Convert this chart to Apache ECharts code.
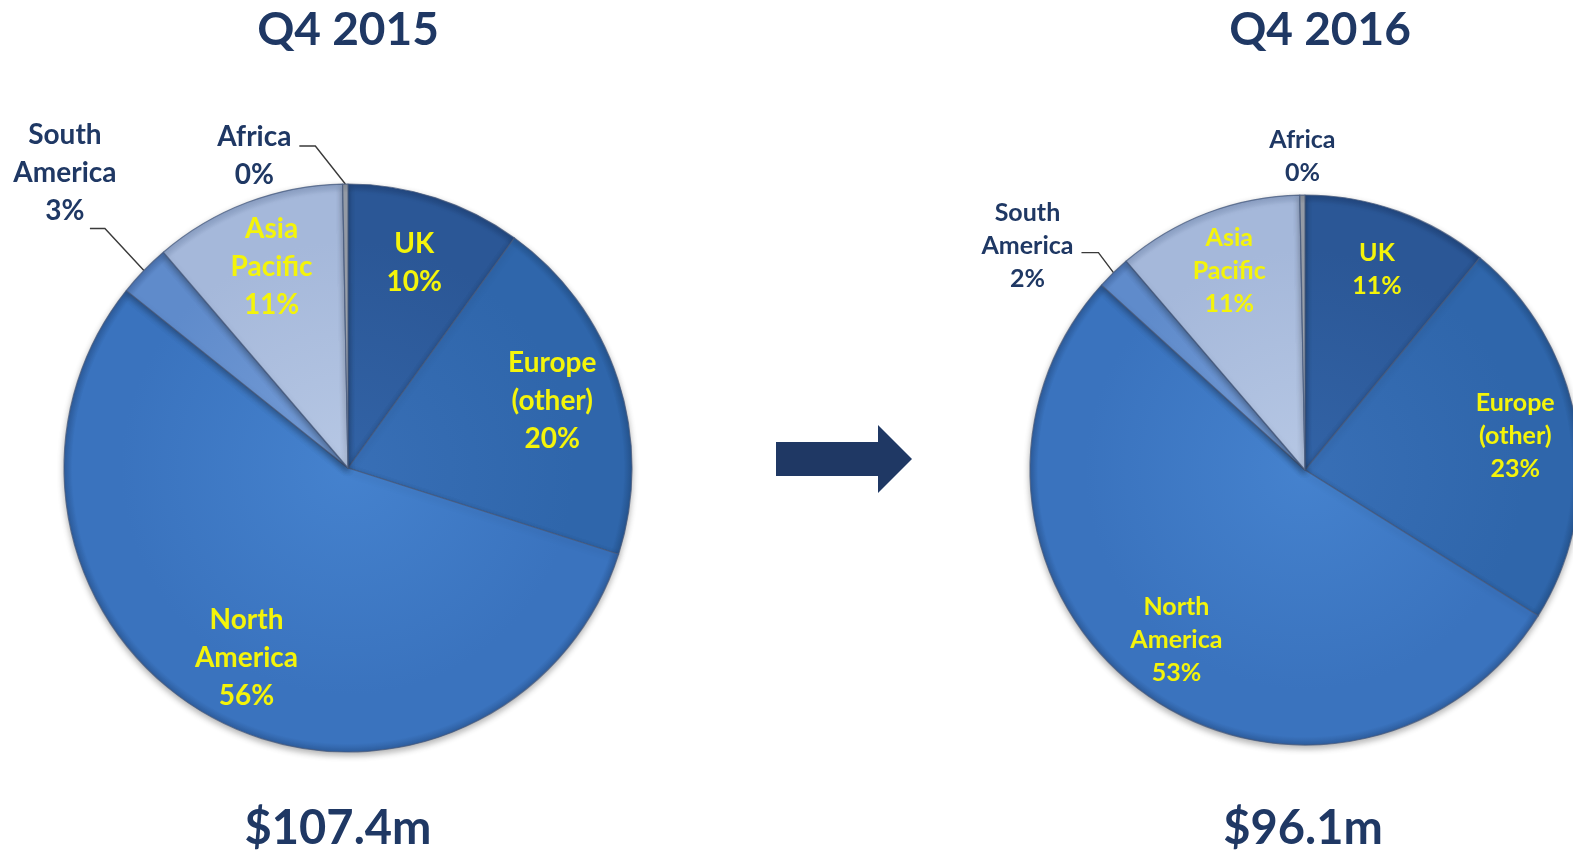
<!DOCTYPE html>
<html>
<head>
<meta charset="UTF-8"/>
<title>Revenue by region</title>
<script src="https://cdn.jsdelivr.net/npm/echarts@6.0.0/dist/echarts.min.js"></script>
<style>
html,body{margin:0;padding:0;background:#fff;}
#main{width:1573px;height:857px;}
</style>
</head>
<body>
<div id="main"></div>
<script type="text/javascript">
// regions, clockwise from 12 o'clock
var regions = ['UK', 'Europe (other)', 'North America', 'South America', 'Asia Pacific', 'Africa'];
var share2015 = [10, 20, 56, 3, 11, 0.3];
var share2016 = [11, 23, 53, 2, 11, 0.3];
var periods = ['Q4 2015', 'Q4 2016'];
var totals = ['$107.4m', '$96.1m'];

// [light, base, rim] per region
var sliceColors = [
  ['#3263a6', '#2b5796', '#22477f'],
  ['#386fb6', '#2f66ab', '#265692'],
  ['#4582ce', '#3a73be', '#2e5e9f'],
  ['#769dd7', '#5f8bcb', '#4a72b0'],
  ['#b6c7e4', '#a5b8da', '#8ca1c6'],
  ['#b2b8c1', '#9ca3ae', '#858c96']
];
var outerLabel = {'South America': true, 'Africa': true};

var navy = '#1f3864';
var yellow = '#f4f40a';
var font = 'Lato, "Open Sans", sans-serif';

var myChart = echarts.init(document.getElementById('main'));

function labelText(p, style) {
  var parts = p.name.split(' ');
  parts.push(p.percent + '%');
  return parts.map(function (s) { return '{' + style + '|' + s + '}'; }).join('\n');
}

function pieData(values, cx, cy, r, forLabels) {
  return regions.map(function (name, i) {
    var c = sliceColors[i];
    var item = { name: name, value: values[i] };
    if (forLabels) {
      item.label = { show: !outerLabel[name] };
    } else {
      item.label = { show: !!outerLabel[name] };
      item.itemStyle = {
        color: {
          type: 'radial', x: cx, y: cy, r: r, global: true,
          colorStops: [
            { offset: 0, color: c[0] },
            { offset: 0.8, color: c[1] },
            { offset: 0.97, color: c[1] },
            { offset: 1, color: c[2] }
          ]
        }
      };
    }
    return item;
  });
}

// move the outside labels next to their leader lines
function outerLayout(moves) {
  return function (params) {
    var pts = params.labelLinePoints;
    var m = moves[regions[params.dataIndex]];
    if (!pts || !m) return {};
    var p0 = pts[0];
    var p1 = [p0[0] + m.line[0], p0[1] + m.line[1]];
    var p2 = [p1[0] - m.tail, p1[1]];
    return {
      x: p2[0] + m.text[0],
      y: p2[1] + m.text[1],
      align: 'center',
      verticalAlign: 'middle',
      labelLinePoints: [p0, p1, p2]
    };
  };
}

function visualSeries(values, cx, cy, r, fs, lh, moves) {
  return {
    type: 'pie',
    center: [cx, cy],
    radius: r,
    startAngle: 90,
    clockwise: true,
    avoidLabelOverlap: false,
    percentPrecision: 0,
    animation: false,
    silent: true,
    itemStyle: {
      borderColor: 'rgba(70,90,125,0.75)',
      borderWidth: 1.2,
      shadowColor: 'rgba(0,0,0,0.3)',
      shadowBlur: 6,
      shadowOffsetY: 3
    },
    label: {
      position: 'outside',
      formatter: function (p) { return labelText(p, 'c'); },
      rich: {
        c: { align: 'center', color: navy, fontSize: fs, fontWeight: 'bold', fontFamily: font, lineHeight: lh }
      }
    },
    labelLine: {
      show: true,
      length: 40,
      length2: 16,
      smooth: false,
      lineStyle: { color: '#3a3a3a', width: 1.4 }
    },
    labelLayout: outerLayout(moves),
    data: pieData(values, cx, cy, r, false)
  };
}

function labelSeries(values, cx, cy, r, r0, fs, lh) {
  return {
    type: 'pie',
    center: [cx, cy],
    radius: [r0, r],
    startAngle: 90,
    clockwise: true,
    avoidLabelOverlap: false,
    percentPrecision: 0,
    animation: false,
    silent: true,
    itemStyle: { color: 'rgba(0,0,0,0)', borderWidth: 0 },
    label: {
      position: 'inside',
      formatter: function (p) { return labelText(p, 'y'); },
      rich: {
        y: { align: 'center', color: yellow, fontSize: fs, fontWeight: 'bold', fontFamily: font, lineHeight: lh }
      }
    },
    labelLine: { show: false },
    data: pieData(values, cx, cy, r, true)
  };
}

var option = {
  backgroundColor: '#ffffff',
  series: [
    visualSeries(share2015, 348, 468, 284, 28, 38, {
      'South America': { line: [-39, -42], tail: 15, text: [-25, -56] },
      'Africa': { line: [-30, -38], tail: 16, text: [-45, 10] }
    }),
    labelSeries(share2015, 348, 468, 284, 140, 28, 38),
    visualSeries(share2016, 1305, 470, 275, 25, 33, {
      'South America': { line: [-15, -20], tail: 17, text: [-54, -7] },
      'Africa': { line: [0, 0], tail: 0, text: [0, -39] }
    }),
    labelSeries(share2016, 1305, 470, 275, 145, 25, 33)
  ],
  graphic: [
    { type: 'text', x: 348, y: 30, style: { text: periods[0], font: 'bold 46px ' + font, fill: navy, align: 'center', verticalAlign: 'middle', textAlign: 'center', textVerticalAlign: 'middle' } },
    { type: 'text', x: 1320, y: 30, style: { text: periods[1], font: 'bold 46px ' + font, fill: navy, align: 'center', verticalAlign: 'middle', textAlign: 'center', textVerticalAlign: 'middle' } },
    { type: 'text', x: 338, y: 829, style: { text: totals[0], font: 'bold 47px ' + font, fill: navy, align: 'center', verticalAlign: 'middle', textAlign: 'center', textVerticalAlign: 'middle' } },
    { type: 'text', x: 1303, y: 829, style: { text: totals[1], font: 'bold 47px ' + font, fill: navy, align: 'center', verticalAlign: 'middle', textAlign: 'center', textVerticalAlign: 'middle' } },
    {
      type: 'polygon',
      shape: { points: [[776, 442], [878, 442], [878, 425], [912, 459], [878, 493], [878, 476], [776, 476]] },
      style: { fill: navy }
    }
  ]
};

if (option && typeof option === "object") {
  myChart.setOption(option, true);
}
</script>
</body>
</html>
